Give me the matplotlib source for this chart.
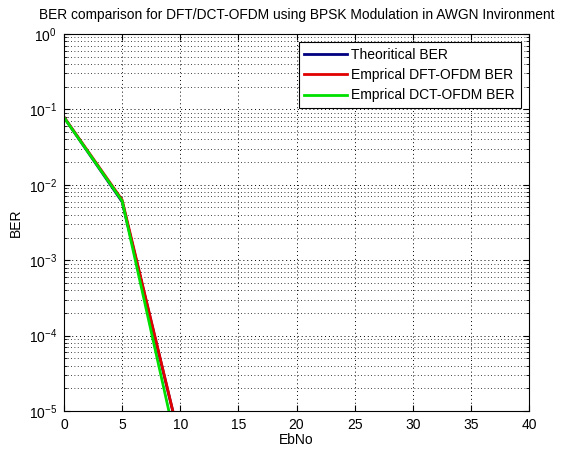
import matplotlib.pyplot as plt
import numpy as np
from matplotlib.ticker import LogLocator, NullFormatter, MultipleLocator

plt.rcParams['font.family'] = ['Liberation Sans', 'DejaVu Sans']
plt.rcParams['font.size'] = 9.5

# Дані
ebno_theory = [0, 5, 10, 15]
ber_theory = [7.87e-2, 5.95e-3, 3.87e-6, 9.4e-16]

ebno_dft = [0, 5, 10]
ber_dft = [7.9e-2, 6.3e-3, 3.9e-6]

ebno_dct = [0, 5, 10]
ber_dct = [7.8e-2, 6.1e-3, 2.1e-6]

labels = ["Theoritical BER", "Emprical DFT-OFDM BER", "Emprical DCT-OFDM BER"]

fig = plt.figure(figsize=(5.62, 4.49), dpi=100)
ax = fig.add_axes([64 / 562, 1 - 411 / 449, 465 / 562, 377 / 449])

ax.semilogy(ebno_theory, ber_theory, color="#000080", linewidth=2, label=labels[0])
ax.semilogy(ebno_dft, ber_dft, color="#e00000", linewidth=2, label=labels[1])
ax.semilogy(ebno_dct, ber_dct, color="#00e000", linewidth=2, label=labels[2])

ax.set_xlim(0, 40)
ax.set_ylim(1e-5, 1)
ax.xaxis.set_major_locator(MultipleLocator(5))
ax.yaxis.set_major_locator(LogLocator(base=10, numticks=10))
ax.yaxis.set_minor_locator(LogLocator(base=10, subs=np.arange(2, 10), numticks=10))
ax.yaxis.set_minor_formatter(NullFormatter())

ax.grid(True, which="major", linestyle=(0, (1, 3)), color="black", linewidth=0.7)
ax.grid(True, which="minor", axis="y", linestyle=(0, (1, 3)), color="black", linewidth=0.6)
ax.tick_params(which="both", direction="in", top=True, right=True, labelsize=10)
ax.tick_params(which="major", length=4, pad=5)
ax.tick_params(which="minor", length=2)

ax.set_xlabel("EbNo", labelpad=1, fontsize=10)
ax.set_ylabel("BER", labelpad=4, fontsize=10)
ax.set_title("BER comparison for DFT/DCT-OFDM using BPSK Modulation in AWGN Invironment",
             fontsize=9.9, pad=11)

leg = ax.legend(loc="upper right", fancybox=False, edgecolor="black", framealpha=1,
                fontsize=10, handlelength=3.1, handletextpad=0.3,
                borderaxespad=0.6, labelspacing=0.45)
leg.get_frame().set_linewidth(0.8)

fig.savefig("out.png", dpi=100)
